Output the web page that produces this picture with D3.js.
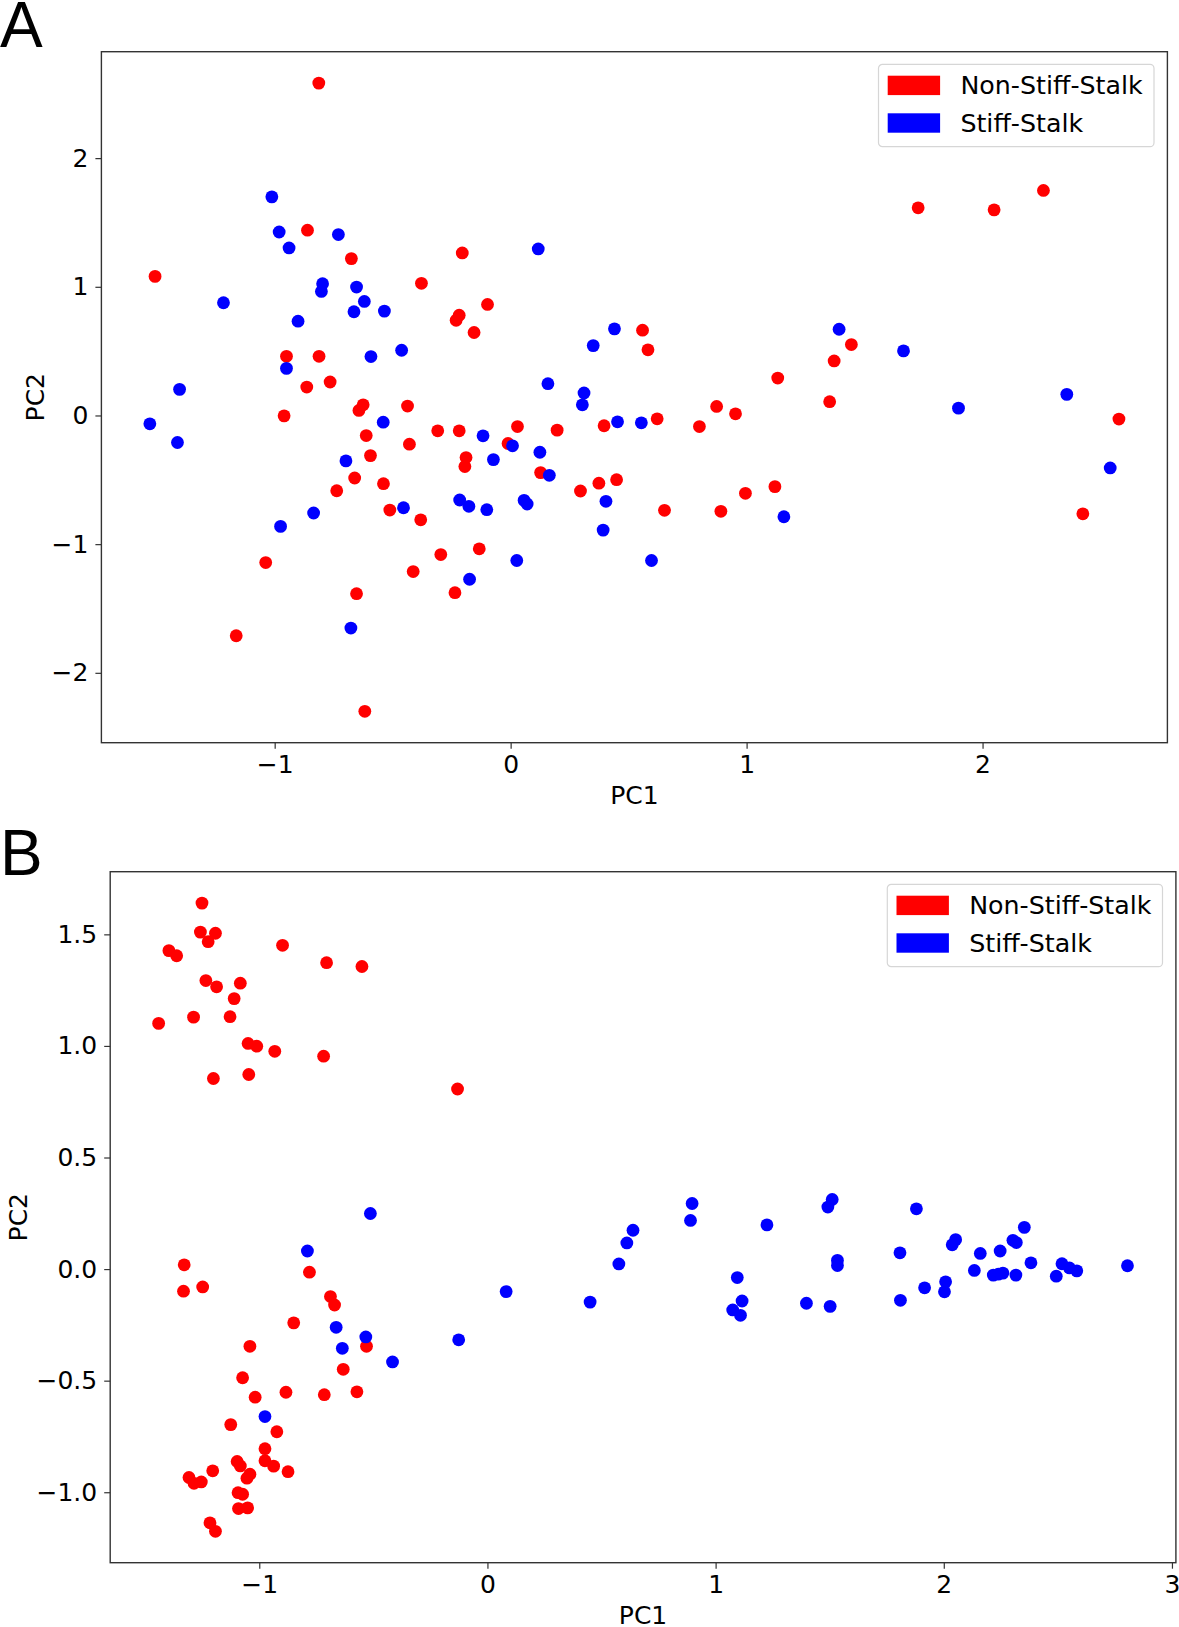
<!DOCTYPE html>
<html><head><meta charset="utf-8">
<script src="https://cdn.jsdelivr.net/npm/d3@7"></script>
<style>
html,body{margin:0;padding:0;background:#fff;}
svg text{font-family:"DejaVu Sans",sans-serif;fill:#000;}
</style></head>
<body>
<svg id="chart" width="1179" height="1627"></svg>
<script>
// ---------- data ----------
const categories = ["Non-Stiff-Stalk", "Stiff-Stalk"];
const colors = ["#ff0000", "#0000ff"];

// Panel A: [PC1, PC2]
const aNonStiff = [
 [-0.813,2.583],[-1.507,1.081],[-0.861,1.440],[-0.675,1.219],[-0.205,1.263],[-0.378,1.027],
 [-0.098,0.863],[-0.231,0.740],[-0.218,0.779],[-0.155,0.645],[-0.950,0.460],[-0.812,0.460],
 [-0.864,0.221],[-0.765,0.260],[-0.643,0.039],[-0.625,0.083],[-0.437,0.073],[-0.960,-0.003],
 [1.727,1.614],[2.049,1.598],[2.258,1.749],[0.559,0.663],[0.582,0.510],[1.444,0.551],
 [1.371,0.424],[1.132,0.291],[1.352,0.107],[0.873,0.070],[0.953,0.013],[2.578,-0.028],
 [0.621,-0.026],[0.396,-0.080],[0.800,-0.086],[0.296,-0.587],[0.374,-0.526],[0.449,-0.499],
 [0.652,-0.737],[0.891,-0.745],[0.995,-0.605],[1.120,-0.553],[2.425,-0.764],
 [-0.309,-0.119],[-0.218,-0.119],[0.029,-0.086],[0.197,-0.114],[-0.612,-0.156],[-0.429,-0.223],
 [-0.011,-0.218],[-0.594,-0.312],[-0.189,-0.327],[-0.194,-0.397],[-0.661,-0.486],[-0.539,-0.530],
 [-0.737,-0.585],[0.127,-0.444],[-0.512,-0.735],[-0.381,-0.811],[-1.038,-1.143],[-0.296,-1.081],
 [-0.133,-1.036],[-0.413,-1.213],[-0.236,-1.377],[-0.653,-1.385],[-1.163,-1.712],[-0.618,-2.299]
];
const aStiff = [
 [-1.012,1.699],[-0.981,1.426],[-0.939,1.302],[-0.730,1.406],[-0.797,1.024],[-0.802,0.964],
 [-0.653,0.998],[-0.620,0.886],[-0.664,0.806],[-0.535,0.811],[-1.217,0.876],[-0.901,0.733],
 [-0.592,0.458],[-0.462,0.507],[-0.950,0.366],[-1.403,0.203],[0.117,1.294],[0.350,0.543],
 [0.158,0.247],[0.311,0.175],[0.304,0.083],[-1.529,-0.065],[-0.540,-0.052],
 [0.440,0.673],[1.392,0.670],[1.665,0.502],[1.898,0.057],[2.357,0.164],
 [0.453,-0.049],[0.554,-0.057],[0.404,-0.667],[0.392,-0.891],[0.597,-1.127],[1.158,-0.787],[2.541,-0.408],
 [-1.412,-0.210],[-0.117,-0.158],[0.008,-0.236],[0.124,-0.286],[-0.073,-0.343],[-0.698,-0.353],
 [0.164,-0.465],[-0.216,-0.657],[-0.177,-0.706],[-0.101,-0.732],[0.057,-0.660],[0.070,-0.688],
 [-0.454,-0.717],[-0.835,-0.758],[-0.975,-0.862],[0.026,-1.127],[-0.174,-1.273],[-0.677,-1.652]
];

// Panel B: [PC1, PC2]
const bNonStiff = [
 [-1.251,1.640],[-1.258,1.510],[-1.192,1.505],[-1.224,1.467],[-1.396,1.427],[-1.362,1.404],
 [-0.898,1.451],[-0.705,1.373],[-0.550,1.356],[-1.234,1.293],[-1.187,1.265],[-1.083,1.281],
 [-1.110,1.212],[-1.441,1.101],[-1.288,1.129],[-1.128,1.131],[-1.049,1.011],[-1.011,0.999],
 [-0.932,0.976],[-0.718,0.954],[-1.201,0.854],[-1.046,0.872],[-0.131,0.807],
 [-1.329,0.019],[-1.332,-0.099],[-1.248,-0.080],[-0.780,-0.014],[-0.688,-0.123],[-0.670,-0.161],
 [-0.849,-0.241],[-1.041,-0.346],[-0.530,-0.346],[-0.632,-0.449],[-1.073,-0.487],[-1.018,-0.574],
 [-0.883,-0.552],[-0.715,-0.563],[-0.572,-0.550],[-1.125,-0.697],[-0.923,-0.729],[-0.975,-0.805],
 [-0.975,-0.859],[-0.937,-0.883],[-0.874,-0.908],[-1.097,-0.862],[-1.083,-0.882],[-1.041,-0.919],
 [-1.054,-0.937],[-1.204,-0.904],[-1.308,-0.934],[-1.286,-0.960],[-1.254,-0.954],[-1.093,-1.002],
 [-1.073,-1.009],[-1.091,-1.073],[-1.051,-1.070],[-1.216,-1.137],[-1.192,-1.175]
];
const bStiff = [
 [-0.513,0.249],[-0.789,0.081],[-0.663,-0.261],[-0.533,-0.304],[-0.636,-0.355],[-0.416,-0.416],
 [-0.975,-0.661],[-0.126,-0.317],[0.082,-0.101],[0.450,-0.148],
 [0.897,0.294],[0.890,0.218],[1.225,0.198],[1.511,0.312],[1.492,0.278],[1.880,0.270],[2.353,0.187],
 [0.638,0.174],[0.611,0.117],[0.576,0.023],[1.095,-0.038],[1.116,-0.143],[1.075,-0.183],[1.109,-0.207],
 [1.398,-0.153],[1.502,-0.167],[1.534,0.039],[1.534,0.016],[1.808,0.073],[1.810,-0.140],[1.916,-0.084],
 [2.008,-0.057],[2.003,-0.102],[2.037,0.109],[2.052,0.132],[2.160,0.070],[2.134,-0.006],[2.247,0.081],
 [2.217,-0.027],[2.239,-0.023],[2.259,-0.018],[2.303,0.129],[2.318,0.119],[2.316,-0.027],[2.382,0.028],
 [2.493,-0.032],[2.518,0.024],[2.551,0.005],[2.583,-0.008],[2.805,0.015]
];

const aXTicks = [-1, 0, 1, 2];
const aYTicks = [-2, -1, 0, 1, 2];
const bXTicks = [-1, 0, 1, 2, 3];
const bYTicks = [-1.0, -0.5, 0.0, 0.5, 1.0, 1.5];

// ---------- drawing ----------
const svg = d3.select("#chart");
const fmtMinus = s => s.replace("-", "\u2212");

function padded(vals){
  const lo = d3.min(vals), hi = d3.max(vals), m = (hi - lo) * 0.05;
  return [lo - m, hi + m];
}

function panel(cfg){
  const {box, series, xTicks, yTicks, yFmt, letter, letterPos, ylabelX, legendW} = cfg;
  const all = series.flat();
  const x = d3.scaleLinear().domain(padded(all.map(d=>d[0]))).range([box.l, box.r]);
  const y = d3.scaleLinear().domain(padded(all.map(d=>d[1]))).range([box.b, box.t]);
  const g = svg.append("g");

  // points
  series.forEach((pts, i) => {
    g.append("g").selectAll("circle").data(pts).join("circle")
      .attr("cx", d => x(d[0])).attr("cy", d => y(d[1]))
      .attr("r", 6.4).attr("fill", colors[i]);
  });

  // axes
  const xa = g.append("g").attr("transform", `translate(0,${box.b})`)
    .call(d3.axisBottom(x).tickValues(xTicks).tickSize(6).tickPadding(6.5)
      .tickFormat(d => fmtMinus(d3.format("d")(d))));
  const ya = g.append("g").attr("transform", `translate(${box.l},0)`)
    .call(d3.axisLeft(y).tickValues(yTicks).tickSize(6).tickPadding(7)
      .tickFormat(d => fmtMinus(d3.format(yFmt)(d))));
  [xa, ya].forEach(a => {
    a.select(".domain").remove();
    a.selectAll("line").attr("stroke", "#333").attr("stroke-width", 1.2);
    a.selectAll("text").style("font-size", "25px").attr("fill", "#000");
  });

  // frame
  g.append("rect").attr("x", box.l).attr("y", box.t)
    .attr("width", box.r - box.l).attr("height", box.b - box.t)
    .attr("fill", "none").attr("stroke", "#333").attr("stroke-width", 1.4);

  // axis labels
  g.append("text").attr("x", (box.l + box.r) / 2).attr("y", box.b + 61)
    .attr("text-anchor", "middle").style("font-size", "25px").text("PC1");
  g.append("text").attr("transform", `translate(${ylabelX},${(box.t + box.b) / 2}) rotate(-90)`)
    .attr("text-anchor", "middle").style("font-size", "25px").text("PC2");

  // panel letter
  g.append("text").attr("x", letterPos[0]).attr("y", letterPos[1])
    .style("font-size", "64px").style("font-family", "'Liberation Sans',Arial,sans-serif").text(letter);

  // legend
  const lx = box.r - 13.4 - legendW, ly = box.t + 12.6;
  const lg = g.append("g").attr("transform", `translate(${lx},${ly})`);
  lg.append("rect").attr("x", 0).attr("y", 0).attr("width", legendW).attr("height", 82.4)
    .attr("rx", 4).attr("fill", "#fff").attr("fill-opacity", 0.8)
    .attr("stroke", "#d6d6d6").attr("stroke-width", 1.2);
  categories.forEach((c, i) => {
    lg.append("rect").attr("x", 9.2).attr("y", 11.4 + i * 37.6)
      .attr("width", 52.4).attr("height", 19.4).attr("fill", colors[i]);
    lg.append("text").attr("x", 81.9).attr("y", 30 + i * 37.6)
      .style("font-size", "25.3px").text(c);
  });
}

panel({
  box: {l: 101.4, r: 1167.4, t: 51.7, b: 742.7},
  series: [aNonStiff, aStiff],
  xTicks: aXTicks, yTicks: aYTicks, yFmt: "d",
  letter: "A", letterPos: [0, 47], ylabelX: 44, legendW: 275.5
});
panel({
  box: {l: 110.2, r: 1175.9, t: 871.7, b: 1562.7},
  series: [bNonStiff, bStiff],
  xTicks: bXTicks, yTicks: bYTicks, yFmt: ".1f",
  letter: "B", letterPos: [0, 875], ylabelX: 27, legendW: 275.2
});
</script>
</body></html>
